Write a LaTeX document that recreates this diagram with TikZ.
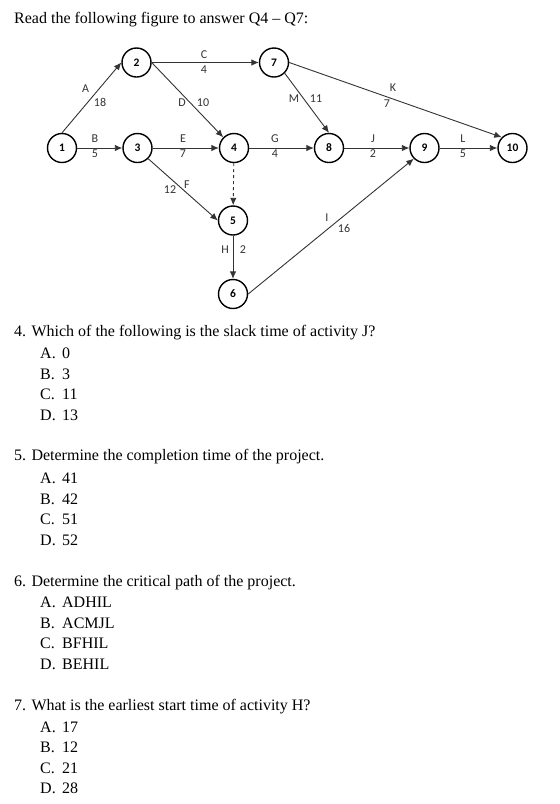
\documentclass[tikz,border=0pt]{standalone}
\usepackage{fontspec}
\setmainfont{Liberation Serif}
\newfontfamily\diag{Carlito}
\usetikzlibrary{arrows.meta}
\begin{document}
\begin{tikzpicture}[x=1pt,y=-1pt,
  ev/.style={circle,draw=black,line width=1.4pt,minimum size=29pt,inner sep=0pt,font=\diag\fontsize{11.5}{13}\selectfont\bfseries},
  act/.style={draw=black!80,line width=0.9pt,-{Latex[length=7.5pt,width=6.5pt]}},
  lab/.style={inner sep=0pt,font=\diag\fontsize{12}{14}\selectfont,text=black!80},
  qtext/.style={anchor=west,inner sep=0pt,font=\fontsize{16}{18}\selectfont},
  opt/.style={anchor=west,inner sep=0pt,font=\fontsize{16}{18}\selectfont}]
\useasboundingbox[fill=white] (0,0) rectangle (560,804);
\node[qtext] (title) at (14,20) {Read the following figure to answer Q4 -- Q7:};
% events
\node[ev] (n1) at (62,148) {1};
\node[ev] (n2) at (136.5,62.5) {2};
\node[ev] (n3) at (137.5,148) {3};
\node[ev] (n4) at (234,148) {4};
\node[ev] (n5) at (233,220.5) {5};
\node[ev] (n6) at (233,294) {6};
\node[ev] (n7) at (274,62.5) {7};
\node[ev] (n8) at (329,148) {8};
\node[ev] (n9) at (424.5,148) {9};
\node[ev] (n10) at (512.5,148) {10};
% activities
\draw[act] (n1.north) -- (n2.west);
\draw[act] (n1) -- (n3);
\draw[act] (n2) -- (n7);
\draw[act] (n2.east) -- (n4.north west);
\draw[act] (n3) -- (n4);
\draw[act] (n3.south east) -- (n5.west);
\draw[act] (n4) -- (n8);
\draw[act,dashed] (n4) -- (n5);
\draw[act] (n5) -- (n6);
\draw[act] (n6.east) -- (n9.south west);
\draw[act] (n8) -- (n9);
\draw[act] (n7.east) -- (n10.north west);
\draw[act] (n9) -- (n10);
\draw[act] (n7.south east) -- (n8.north);
% labels
\node[lab] (lA) at (85.7,89) {A};
\node[lab] (lA2) at (100,102) {18};
\node[lab] (lC) at (204,55) {C};
\node[lab] (lC2) at (204,70) {4};
\node[lab] (lD) at (182,103) {D};
\node[lab] (lD2) at (203,103) {10};
\node[lab] (lB) at (95,139) {B};
\node[lab] (lB2) at (95,154) {5};
\node[lab] (lE) at (183,139) {E};
\node[lab] (lE2) at (183,154) {7};
\node[lab] (lG) at (275,139) {G};
\node[lab] (lG2) at (275,154) {4};
\node[lab] (lM) at (294,99) {M};
\node[lab] (lM2) at (316,99) {11};
\node[lab] (lK) at (393,88) {K};
\node[lab] (lK2) at (387,104) {7};
\node[lab] (lJ) at (373,139) {J};
\node[lab] (lJ2) at (373,154) {2};
\node[lab] (lL) at (463,139) {L};
\node[lab] (lL2) at (463,154) {5};
\node[lab] (lF) at (187,185) {F};
\node[lab] (lF2) at (170,190) {12};
\node[lab] (lH) at (225,250) {H};
\node[lab] (lH2) at (243,250) {2};
\node[lab] (lI) at (327,218) {I};
\node[lab] (lI2) at (344,228) {16};
% questions
\node[qtext] (q4) at (14,333) {4. Which of the following is the slack time of activity J?};
\node[opt] (q4a) at (40,353.5) {\makebox[22pt][l]{A.}0};
\node[opt] (q4b) at (40,374) {\makebox[22pt][l]{B.}3};
\node[opt] (q4c) at (40,394.5) {\makebox[22pt][l]{C.}11};
\node[opt] (q4d) at (40,415) {\makebox[22pt][l]{D.}13};
\node[qtext] (q5) at (14,457) {5. Determine the completion time of the project.};
\node[opt] (q5a) at (40,478.5) {\makebox[22pt][l]{A.}41};
\node[opt] (q5b) at (40,499) {\makebox[22pt][l]{B.}42};
\node[opt] (q5c) at (40,519.5) {\makebox[22pt][l]{C.}51};
\node[opt] (q5d) at (40,540) {\makebox[22pt][l]{D.}52};
\node[qtext] (q6) at (14,583) {6. Determine the critical path of the project.};
\node[opt] (q6a) at (40,602.5) {\makebox[22pt][l]{A.}ADHIL};
\node[opt] (q6b) at (40,623) {\makebox[22pt][l]{B.}ACMJL};
\node[opt] (q6c) at (40,643.5) {\makebox[22pt][l]{C.}BFHIL};
\node[opt] (q6d) at (40,664) {\makebox[22pt][l]{D.}BEHIL};
\node[qtext] (q7) at (14,707) {7. What is the earliest start time of activity H?};
\node[opt] (q7a) at (40,727) {\makebox[22pt][l]{A.}17};
\node[opt] (q7b) at (40,747.5) {\makebox[22pt][l]{B.}12};
\node[opt] (q7c) at (40,768) {\makebox[22pt][l]{C.}21};
\node[opt] (q7d) at (40,788.5) {\makebox[22pt][l]{D.}28};
\end{tikzpicture}
\end{document}
